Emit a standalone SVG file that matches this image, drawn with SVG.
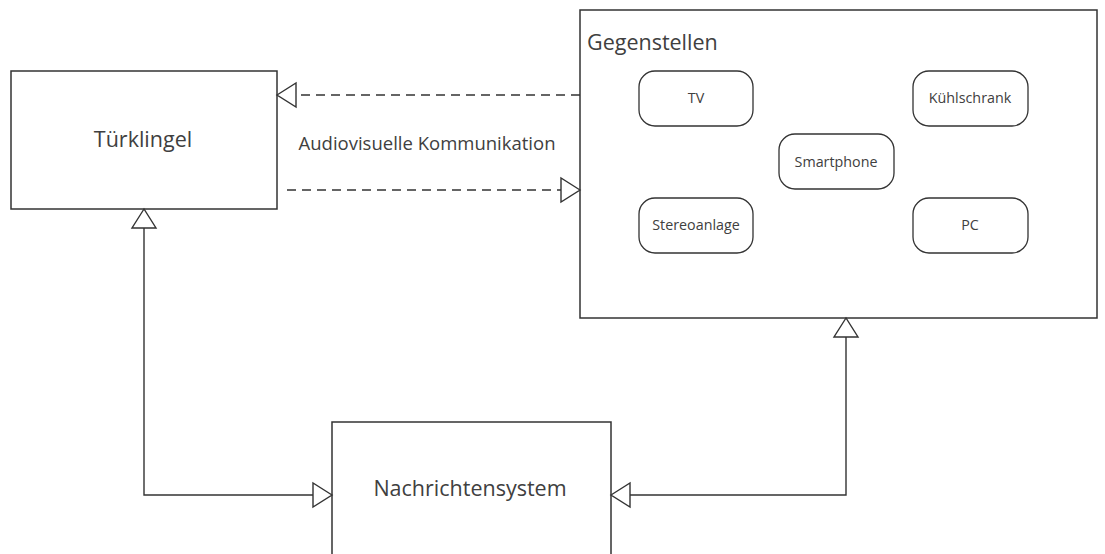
<svg xmlns="http://www.w3.org/2000/svg" width="1105" height="554" viewBox="0 0 1105 554">
<style>
.box{fill:#fff;stroke:#333;stroke-width:1.5}
.rr{fill:#fff;stroke:#333;stroke-width:1.3}
.t{font-family:"Open Sans","Liberation Sans",sans-serif;fill:#404040}
.big{font-size:21.5px}
.sm{font-size:14.3px}
.mid{font-size:18.5px}
.ln{fill:none;stroke:#333;stroke-width:1.4}
.dash{stroke-dasharray:9,6}
.head{fill:#fff;stroke:#333;stroke-width:1.4}
</style>
<rect width="1105" height="554" fill="#fff"/>
<g id="tuerklingel">
<rect class="box" x="11" y="71" width="266" height="138"/>
<text class="t big" x="143" y="147" text-anchor="middle">Türklingel</text>
</g>
<g id="gegenstellen">
<rect class="box" x="580" y="10" width="517" height="308"/>
<text class="t big" x="587" y="50">Gegenstellen</text>
</g>
<g id="tv">
<rect class="rr" x="639" y="71" width="114" height="55" rx="16"/>
<text class="t sm" x="696" y="103" text-anchor="middle">TV</text>
</g>
<g id="kuehlschrank">
<rect class="rr" x="913" y="71" width="115" height="55" rx="16"/>
<text class="t sm" x="970" y="103" text-anchor="middle">Kühlschrank</text>
</g>
<g id="smartphone">
<rect class="rr" x="779" y="134" width="115" height="55" rx="16"/>
<text class="t sm" x="836" y="167" text-anchor="middle">Smartphone</text>
</g>
<g id="stereoanlage">
<rect class="rr" x="639" y="198" width="114" height="55" rx="16"/>
<text class="t sm" x="696" y="230" text-anchor="middle">Stereoanlage</text>
</g>
<g id="pc">
<rect class="rr" x="913" y="198" width="115" height="55" rx="16"/>
<text class="t sm" x="970" y="230" text-anchor="middle">PC</text>
</g>
<g id="nachrichtensystem">
<rect class="box" x="332" y="422" width="279" height="150"/>
<text class="t big" x="470" y="496" text-anchor="middle">Nachrichtensystem</text>
</g>
<g id="connectors">
<path class="ln dash" d="M580,95 H296"/>
<path class="head" d="M277,95 L296,83 L296,107 Z"/>
<path class="ln dash" d="M287,190 H561"/>
<path class="head" d="M580,190 L561,178 L561,202 Z"/>
<text class="t mid" x="427" y="150" text-anchor="middle">Audiovisuelle Kommunikation</text>
<path class="ln" d="M313,495 H144 V228"/>
<path class="head" d="M144,209 L132,228 L156,228 Z"/>
<path class="head" d="M332,495 L313,483 L313,507 Z"/>
<path class="ln" d="M630,495 H846 V337"/>
<path class="head" d="M611,495 L630,483 L630,507 Z"/>
<path class="head" d="M846,318 L834,337 L858,337 Z"/>
</g>
</svg>
